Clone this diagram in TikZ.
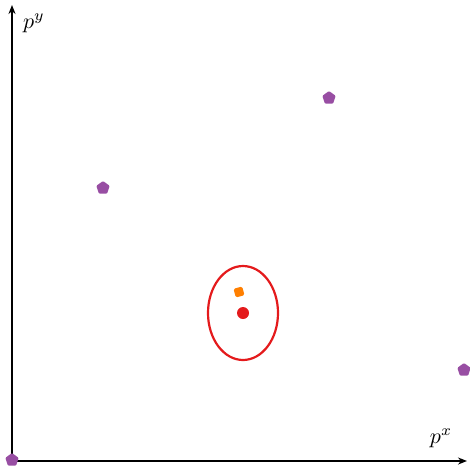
\documentclass[tikz,border=0pt]{standalone}
\usepackage{graphicx}
\usetikzlibrary{shapes.geometric,arrows.meta}
\definecolor{cred}{HTML}{E41A1C}
\definecolor{cpurple}{HTML}{984EA3}
\definecolor{corange}{HTML}{FF7F00}
\begin{document}
\begin{tikzpicture}[x=1pt,y=-1pt,
  axis/.style={line width=1.6pt,-{Stealth[length=9pt,width=7pt]}},
  purplept/.style={regular polygon,regular polygon sides=5,fill=cpurple,inner sep=0pt,minimum size=14pt,rounded corners=1pt},
  orangept/.style={rectangle,fill=corange,inner sep=0pt,minimum size=9pt,rounded corners=1.5pt,rotate=15},
  reddot/.style={circle,fill=cred,inner sep=0pt,minimum size=12pt},
  lbl/.style={inner sep=0pt}]
\useasboundingbox (0,0) rectangle (470,468);
\coordinate (O) at (12,461);
\coordinate (Y) at (12,5);
\coordinate (X) at (467,461);
\draw[axis] (O) -- (Y);
\draw[axis] (O) -- (X);
\node[lbl] (ly) at (34,23) {\scalebox{2.2}{$p^y$}};
\node[lbl] (lx) at (441,438) {\scalebox{2.2}{$p^x$}};
\draw[cred,line width=2.2pt] (243,313) ellipse [x radius=35,y radius=47];
\node[reddot] (r) at (243,313) {};
\node[orangept] (o) at (239,292) {};
\node[purplept] (p1) at (103,188) {};
\node[purplept] (p2) at (329,98) {};
\node[purplept] (p3) at (464,370) {};
\node[purplept] (p4) at (12,460) {};
\end{tikzpicture}
\end{document}
